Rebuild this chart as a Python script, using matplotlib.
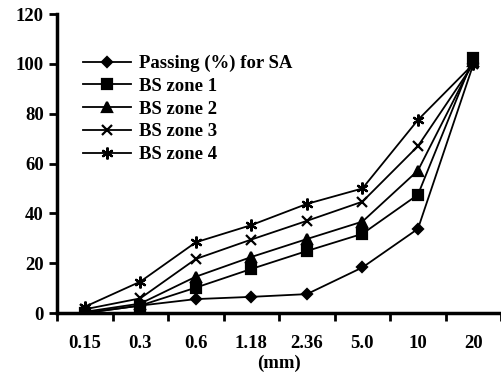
import matplotlib
matplotlib.use("Agg")
import matplotlib.pyplot as plt
import numpy as np

# Sieve sizes and passing percentages
sizes = ["0.15", "0.3", "0.6", "1.18", "2.36", "5.0", "10", "20"]
sa = [0, 3, 5.6, 6.5, 7.6, 18.3, 33.8, 100]
zone1 = [0, 3, 10.2, 17.7, 24.9, 31.8, 47.5, 102.5]
zone2 = [0.5, 3.8, 14.6, 22.5, 29.7, 36.7, 57.2, 101]
zone3 = [1.5, 5.9, 21.7, 29.5, 37, 44.7, 67, 100]
zone4 = [2.5, 12.6, 28.4, 35.3, 43.8, 50, 77.5, 100]

plt.rcParams['font.family'] = ['Liberation Serif', 'DejaVu Serif']
plt.rcParams['font.weight'] = 'bold'
plt.rcParams['axes.labelweight'] = 'bold'

fig = plt.figure(figsize=(5.02, 3.79), dpi=100)
ax = fig.add_axes([0.1135, 0.174, 0.885, 0.789])

x = np.arange(len(sizes))
series = [
    ("Passing (%) for SA", sa, "D", 5),
    ("BS zone 1", zone1, "s", 6.5),
    ("BS zone 2", zone2, "^", 7),
    ("BS zone 3", zone3, "x", 6.5),
    ("BS zone 4", zone4, (6, 2, 0), 8.5),
]
for label, vals, m, ms in series:
    ax.plot(x, vals, color="black", lw=1.3, marker=m, markersize=ms,
            markeredgewidth=1.6, label=label)

ax.set_xlim(-0.5, len(sizes) - 0.5)
ax.set_ylim(0, 120)
ax.set_yticks(range(0, 121, 20))
ax.set_xticks(x)
ax.set_xticklabels(sizes)
ax.set_xticks(np.arange(-0.5, len(sizes), 1), minor=True)
ax.tick_params(axis="x", which="major", length=0, pad=16, labelsize=13.5)
ax.tick_params(axis="x", which="minor", length=6, width=2, direction="out")
ax.tick_params(axis="y", length=6, width=2, direction="out", labelsize=13.5)
ax.spines["top"].set_visible(False)
ax.spines["right"].set_visible(False)
ax.spines["left"].set_linewidth(2.5)
ax.spines["bottom"].set_linewidth(2.5)
ax.set_xlabel("(mm)", fontsize=13.5, labelpad=2)

ax.legend(loc="upper left", bbox_to_anchor=(0.02, 0.92), frameon=False,
          fontsize=13.5, handlelength=2.6, labelspacing=0.3, handletextpad=0.4)

fig.savefig("out.png", dpi=100)
